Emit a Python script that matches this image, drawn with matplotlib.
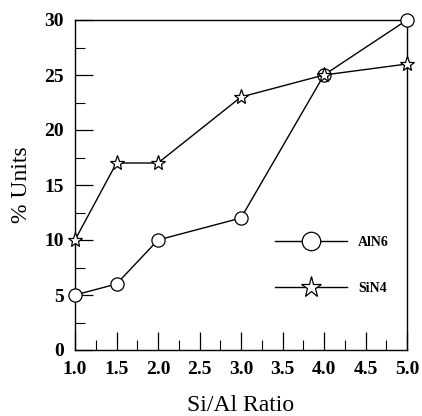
import matplotlib
matplotlib.use("Agg")
import matplotlib.pyplot as plt
from matplotlib.ticker import MultipleLocator

ratio = [1.0, 1.5, 2.0, 3.0, 4.0, 5.0]
aln6 = [5, 6, 10, 12, 25, 30]
sin4 = [10, 17, 17, 23, 25, 26]
xticks = [1.0, 1.5, 2.0, 2.5, 3.0, 3.5, 4.0, 4.5, 5.0]
yticks = [0, 5, 10, 15, 20, 25, 30]

plt.rcParams['font.family'] = ['Liberation Serif', 'DejaVu Serif']

fig = plt.figure(figsize=(4.22, 4.16), dpi=100)
ax = fig.add_axes([75/422, 1-350/416, (407-75)/422, (350-20)/416])

ax.plot(ratio, aln6, color='black', lw=1.0, marker='o', ms=9.5,
        mfc='white', mec='black', mew=0.9, clip_on=False, label='AlN6', zorder=3)
ax.plot(ratio, sin4, color='black', lw=1.0, marker='*', ms=11,
        mfc='white', mec='black', mew=0.9, clip_on=False, label='SiN4', zorder=3)

ax.set_xlim(1.0, 5.0)
ax.set_ylim(0, 30)
ax.set_xticks(xticks)
ax.set_xticklabels([f"{v:.1f}" for v in xticks])
ax.set_yticks(yticks)
ax.xaxis.set_minor_locator(MultipleLocator(0.25))
ax.yaxis.set_minor_locator(MultipleLocator(2.5))
ax.tick_params(which='major', direction='in', length=13, width=0.9, labelsize=14, pad=8)
ax.tick_params(which='minor', direction='in', length=7, width=0.8)
ax.tick_params(top=False, right=False)
for lab in ax.get_xticklabels() + ax.get_yticklabels():
    lab.set_fontweight('semibold')
for s in ax.spines.values():
    s.set_linewidth(1.0)

ax.set_xlabel('Si/Al Ratio', fontsize=17, labelpad=12)
ax.set_ylabel('% Units', fontsize=17, labelpad=9)

leg = ax.legend(loc='upper left', bbox_to_anchor=((275-75)/332, (350-236)/330),
                frameon=False, handlelength=5.2, handletextpad=0.8,
                labelspacing=2.35, markerscale=1.4, borderpad=0, borderaxespad=0,
                prop={'weight': 'bold', 'size': 10})
fig.savefig('out.png', dpi=100)
